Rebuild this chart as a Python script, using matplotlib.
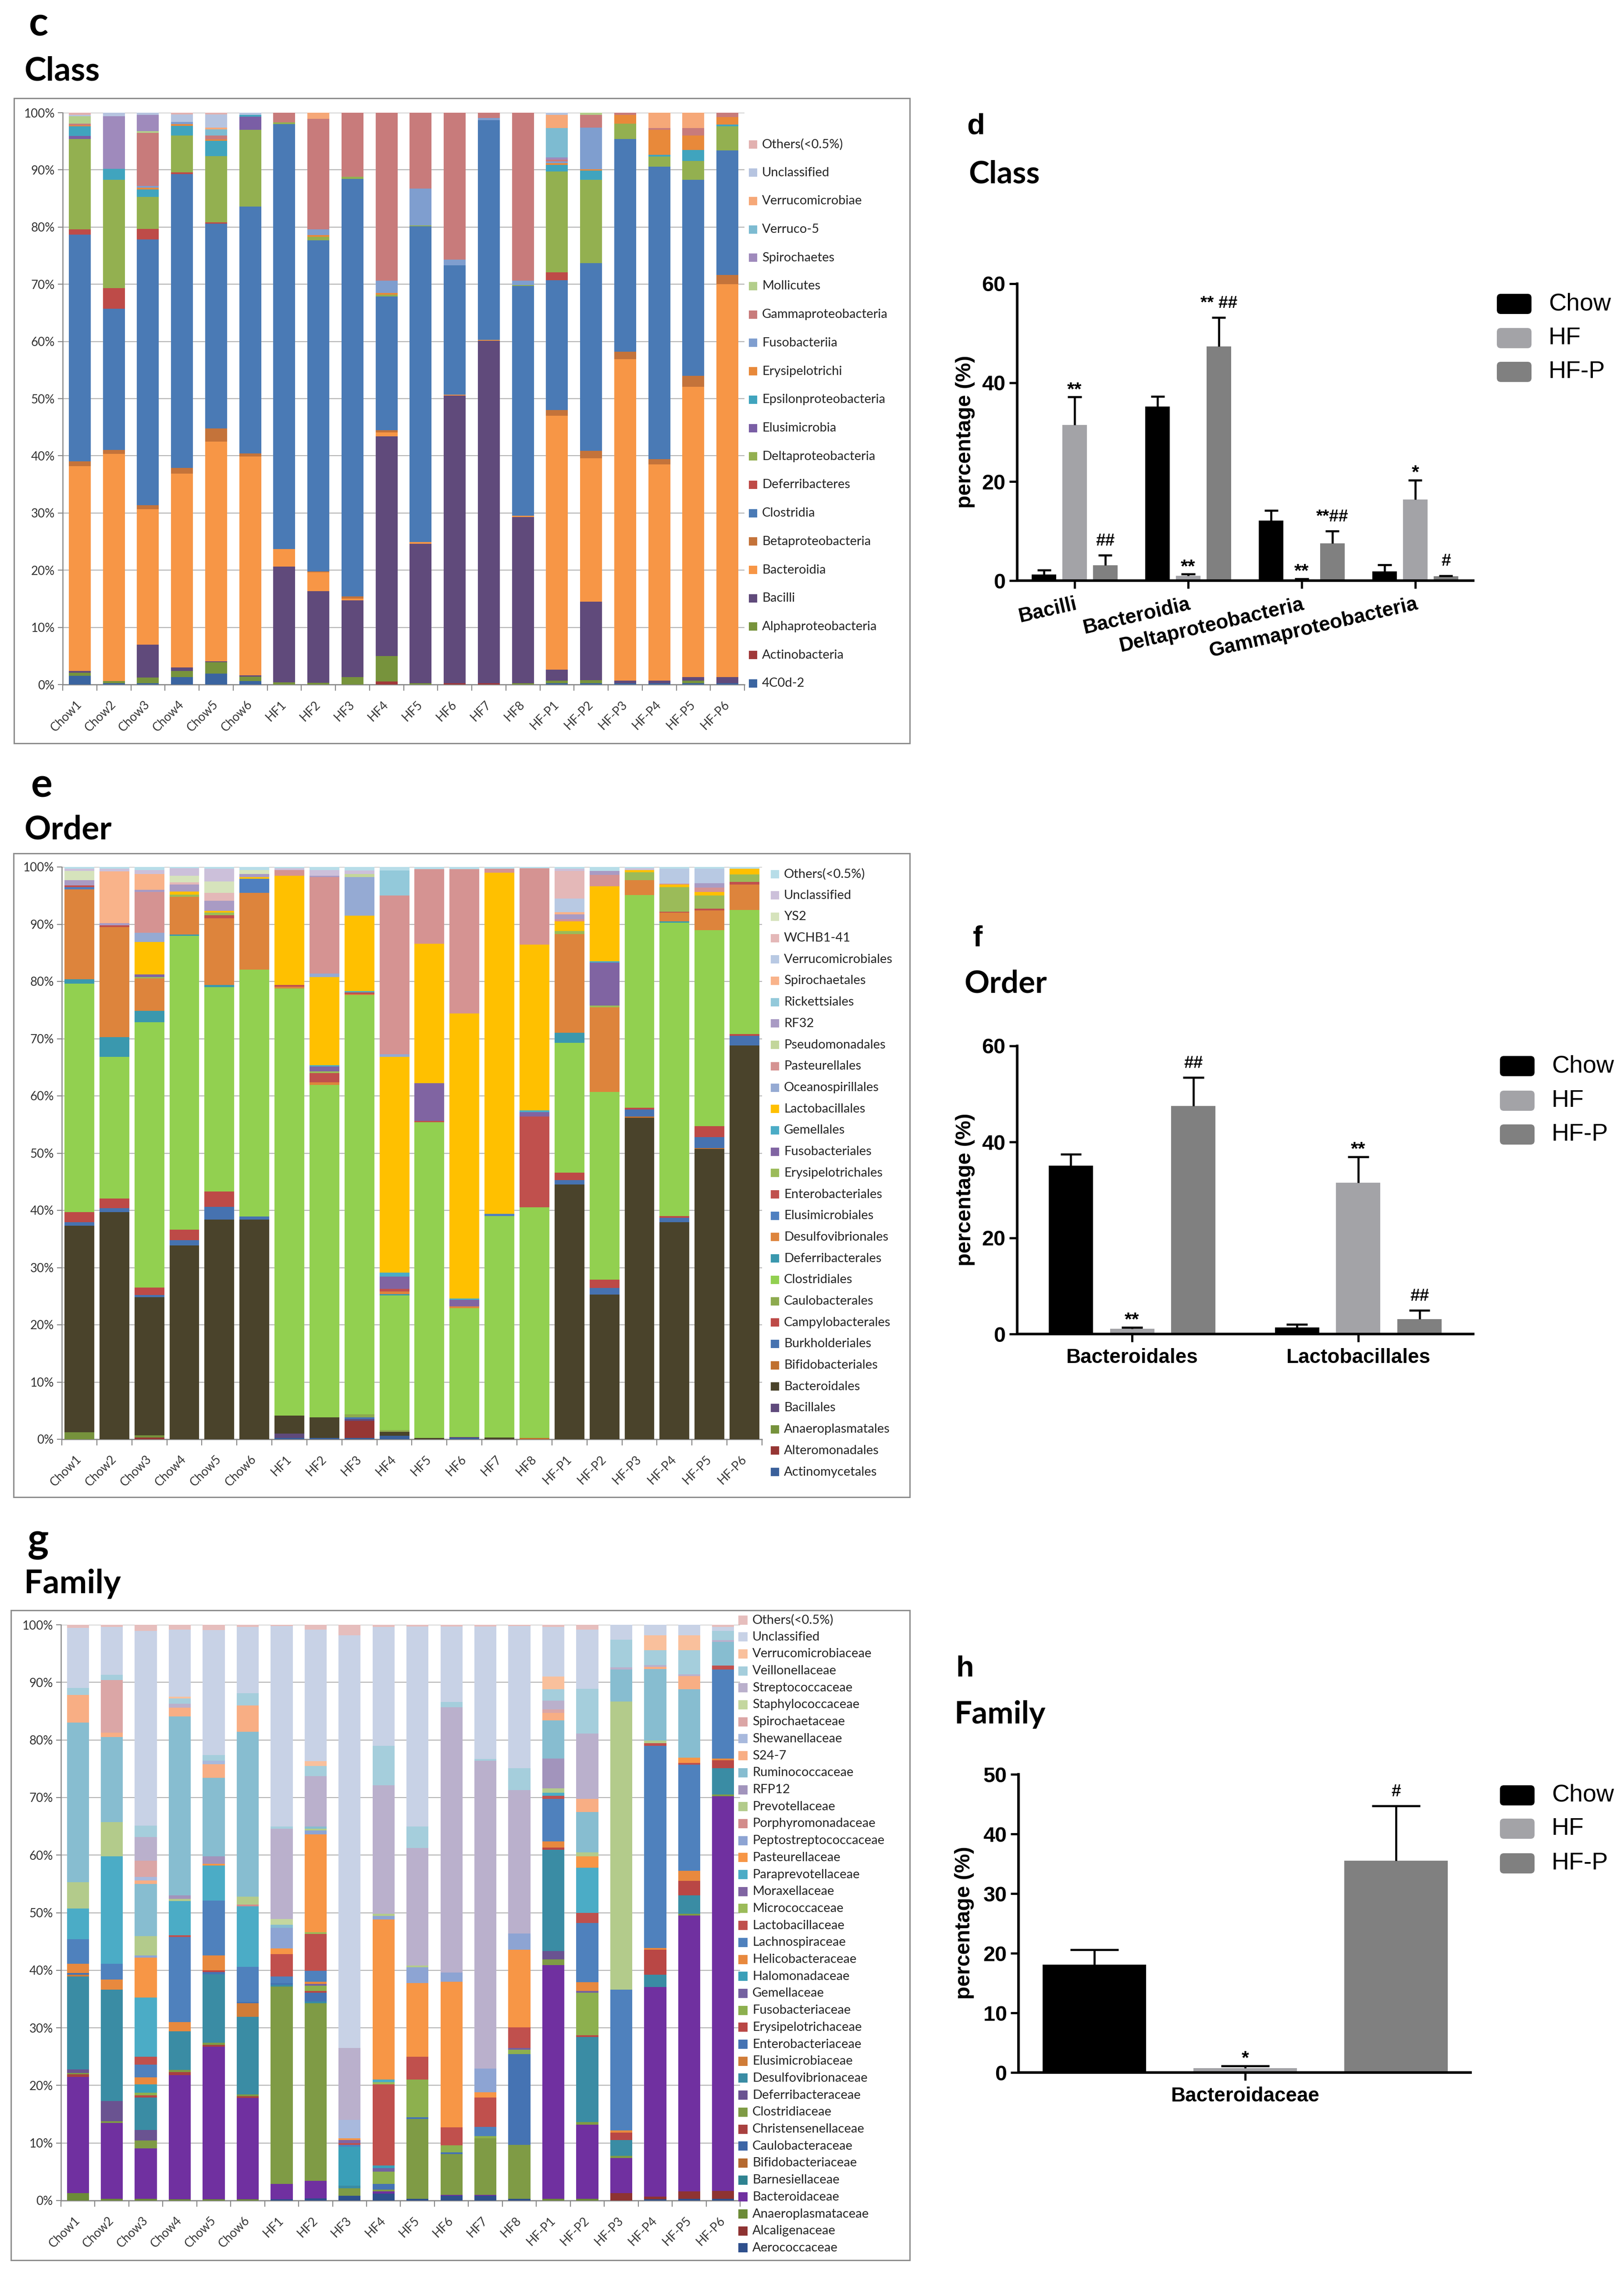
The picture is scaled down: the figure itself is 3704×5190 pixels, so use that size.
import matplotlib
matplotlib.use('Agg')
import matplotlib.pyplot as plt
from matplotlib.patches import Rectangle, FancyBboxPatch
from matplotlib.transforms import IdentityTransform
import numpy as np

# ---------------------------------------------------------------- data
samples = ['Chow1', 'Chow2', 'Chow3', 'Chow4', 'Chow5', 'Chow6',
           'HF1', 'HF2', 'HF3', 'HF4', 'HF5', 'HF6', 'HF7', 'HF8',
           'HF-P1', 'HF-P2', 'HF-P3', 'HF-P4', 'HF-P5', 'HF-P6']

# ---- Class (stack order bottom -> top)
class_cats = ['4C0d-2', 'Actinobacteria', 'Alphaproteobacteria', 'Bacilli', 'Bacteroidia',
              'Betaproteobacteria', 'Clostridia', 'Deferribacteres', 'Deltaproteobacteria',
              'Elusimicrobia', 'Epsilonproteobacteria', 'Erysipelotrichi', 'Fusobacteriia',
              'Gammaproteobacteria', 'Mollicutes', 'Spirochaetes', 'Verruco-5',
              'Verrucomicrobiae', 'Unclassified', 'Others(<0.5%)']
class_colors = ['#3A64A0', '#A0393A', '#77933C', '#604A7B', '#F79646',
                '#C4733A', '#4A7AB5', '#BE4B48', '#93B050',
                '#7A5EA5', '#40A4BE', '#E8893A', '#7F9ECF',
                '#C87B7B', '#B3CE8B', '#9F8ABC', '#7DBBD1',
                '#F6A878', '#B6C4E0', '#E2B1B0']
class_data = {
    'Chow1': {'4C0d-2': 1.5, 'Alphaproteobacteria': 0.6, 'Bacilli': 0.3, 'Bacteroidia': 35.8, 'Betaproteobacteria': 0.8, 'Clostridia': 39.7, 'Deferribacteres': 0.9, 'Deltaproteobacteria': 15.8, 'Elusimicrobia': 0.5, 'Epsilonproteobacteria': 1.7, 'Erysipelotrichi': 0.2, 'Gammaproteobacteria': 0.3, 'Mollicutes': 1.3, 'Unclassified': 0.2, 'Others(<0.5%)': 0.4},
    'Chow2': {'4C0d-2': 0.2, 'Alphaproteobacteria': 0.4, 'Bacteroidia': 39.7, 'Betaproteobacteria': 0.7, 'Clostridia': 24.7, 'Deferribacteres': 3.6, 'Deltaproteobacteria': 19.0, 'Epsilonproteobacteria': 1.9, 'Spirochaetes': 9.2, 'Unclassified': 0.6},
    'Chow3': {'4C0d-2': 0.2, 'Alphaproteobacteria': 1.0, 'Bacilli': 5.8, 'Bacteroidia': 23.7, 'Betaproteobacteria': 0.7, 'Clostridia': 46.4, 'Deferribacteres': 1.9, 'Deltaproteobacteria': 5.6, 'Epsilonproteobacteria': 1.3, 'Erysipelotrichi': 0.3, 'Fusobacteriia': 0.3, 'Gammaproteobacteria': 9.3, 'Mollicutes': 0.3, 'Spirochaetes': 2.8, 'Unclassified': 0.4},
    'Chow4': {'4C0d-2': 1.3, 'Alphaproteobacteria': 1.1, 'Bacilli': 0.6, 'Bacteroidia': 33.9, 'Betaproteobacteria': 1.0, 'Clostridia': 51.4, 'Deferribacteres': 0.3, 'Deltaproteobacteria': 6.4, 'Epsilonproteobacteria': 1.7, 'Erysipelotrichi': 0.3, 'Fusobacteriia': 0.4, 'Unclassified': 1.3, 'Others(<0.5%)': 0.3},
    'Chow5': {'4C0d-2': 1.9, 'Alphaproteobacteria': 2.0, 'Bacilli': 0.2, 'Bacteroidia': 38.4, 'Betaproteobacteria': 2.3, 'Clostridia': 35.8, 'Deferribacteres': 0.2, 'Deltaproteobacteria': 11.6, 'Epsilonproteobacteria': 2.7, 'Erysipelotrichi': 0.2, 'Gammaproteobacteria': 0.7, 'Verruco-5': 1.1, 'Verrucomicrobiae': 0.3, 'Unclassified': 2.3, 'Others(<0.5%)': 0.3},
    'Chow6': {'4C0d-2': 0.6, 'Alphaproteobacteria': 0.8, 'Bacilli': 0.2, 'Bacteroidia': 38.3, 'Betaproteobacteria': 0.5, 'Clostridia': 43.2, 'Deltaproteobacteria': 13.4, 'Elusimicrobia': 2.3, 'Epsilonproteobacteria': 0.3, 'Unclassified': 0.4},
    'HF1': {'Alphaproteobacteria': 0.4, 'Bacilli': 20.2, 'Bacteroidia': 3.1, 'Clostridia': 74.3, 'Deltaproteobacteria': 0.3, 'Gammaproteobacteria': 1.7},
    'HF2': {'Alphaproteobacteria': 0.3, 'Bacilli': 16.0, 'Bacteroidia': 3.3, 'Betaproteobacteria': 0.2, 'Clostridia': 57.9, 'Deltaproteobacteria': 0.6, 'Erysipelotrichi': 0.3, 'Fusobacteriia': 1.0, 'Gammaproteobacteria': 19.3, 'Verrucomicrobiae': 1.1},
    'HF3': {'Alphaproteobacteria': 1.3, 'Bacilli': 13.4, 'Bacteroidia': 0.3, 'Betaproteobacteria': 0.4, 'Clostridia': 73.0, 'Deltaproteobacteria': 0.4, 'Gammaproteobacteria': 11.2},
    'HF4': {'Actinobacteria': 0.5, 'Alphaproteobacteria': 4.5, 'Bacilli': 38.4, 'Bacteroidia': 0.7, 'Betaproteobacteria': 0.4, 'Clostridia': 23.4, 'Deltaproteobacteria': 0.3, 'Erysipelotrichi': 0.3, 'Fusobacteriia': 2.1, 'Gammaproteobacteria': 29.4},
    'HF5': {'Alphaproteobacteria': 0.2, 'Bacilli': 24.4, 'Bacteroidia': 0.3, 'Clostridia': 55.2, 'Deltaproteobacteria': 0.2, 'Fusobacteriia': 6.4, 'Gammaproteobacteria': 13.3},
    'HF6': {'Actinobacteria': 0.2, 'Bacilli': 50.3, 'Bacteroidia': 0.2, 'Clostridia': 22.6, 'Fusobacteriia': 1.0, 'Gammaproteobacteria': 25.7},
    'HF7': {'Actinobacteria': 0.2, 'Bacilli': 59.9, 'Bacteroidia': 0.2, 'Clostridia': 38.4, 'Fusobacteriia': 0.4, 'Gammaproteobacteria': 0.9},
    'HF8': {'Alphaproteobacteria': 0.2, 'Bacilli': 29.1, 'Bacteroidia': 0.2, 'Clostridia': 40.2, 'Deltaproteobacteria': 0.2, 'Fusobacteriia': 0.7, 'Gammaproteobacteria': 29.4},
    'HF-P1': {'4C0d-2': 0.2, 'Alphaproteobacteria': 0.5, 'Bacilli': 1.9, 'Bacteroidia': 44.4, 'Betaproteobacteria': 1.0, 'Clostridia': 22.7, 'Deferribacteres': 1.4, 'Deltaproteobacteria': 17.6, 'Epsilonproteobacteria': 1.2, 'Erysipelotrichi': 0.3, 'Fusobacteriia': 0.3, 'Gammaproteobacteria': 0.3, 'Spirochaetes': 0.4, 'Verruco-5': 5.1, 'Verrucomicrobiae': 2.3, 'Unclassified': 0.4},
    'HF-P2': {'4C0d-2': 0.2, 'Alphaproteobacteria': 0.6, 'Bacilli': 13.7, 'Bacteroidia': 25.1, 'Betaproteobacteria': 1.3, 'Clostridia': 32.8, 'Deltaproteobacteria': 14.6, 'Epsilonproteobacteria': 1.6, 'Erysipelotrichi': 0.2, 'Fusobacteriia': 7.3, 'Gammaproteobacteria': 2.2, 'Mollicutes': 0.4},
    'HF-P3': {'4C0d-2': 0.2, 'Bacilli': 0.5, 'Bacteroidia': 56.2, 'Betaproteobacteria': 1.3, 'Clostridia': 37.2, 'Deltaproteobacteria': 2.7, 'Erysipelotrichi': 1.5, 'Gammaproteobacteria': 0.4},
    'HF-P4': {'4C0d-2': 0.2, 'Bacilli': 0.5, 'Bacteroidia': 37.8, 'Betaproteobacteria': 0.9, 'Clostridia': 51.2, 'Deltaproteobacteria': 1.7, 'Epsilonproteobacteria': 0.3, 'Erysipelotrichi': 4.4, 'Gammaproteobacteria': 0.3, 'Verrucomicrobiae': 2.7},
    'HF-P5': {'4C0d-2': 0.2, 'Alphaproteobacteria': 0.5, 'Bacilli': 0.6, 'Bacteroidia': 50.8, 'Betaproteobacteria': 1.9, 'Clostridia': 34.3, 'Deltaproteobacteria': 3.3, 'Epsilonproteobacteria': 1.9, 'Erysipelotrichi': 2.5, 'Gammaproteobacteria': 1.3, 'Verrucomicrobiae': 2.7},
    'HF-P6': {'4C0d-2': 0.2, 'Bacilli': 1.1, 'Bacteroidia': 68.7, 'Betaproteobacteria': 1.6, 'Clostridia': 21.8, 'Deltaproteobacteria': 4.2, 'Epsilonproteobacteria': 0.3, 'Erysipelotrichi': 1.3, 'Gammaproteobacteria': 0.8},
}

# ---- Order
order_cats = ['Actinomycetales', 'Alteromonadales', 'Anaeroplasmatales', 'Bacillales', 'Bacteroidales',
              'Bifidobacteriales', 'Burkholderiales', 'Campylobacterales', 'Caulobacterales',
              'Clostridiales', 'Deferribacterales', 'Desulfovibrionales', 'Elusimicrobiales',
              'Enterobacteriales', 'Erysipelotrichales', 'Fusobacteriales', 'Gemellales',
              'Lactobacillales', 'Oceanospirillales', 'Pasteurellales', 'Pseudomonadales', 'RF32',
              'Rickettsiales', 'Spirochaetales', 'Verrucomicrobiales', 'WCHB1-41', 'YS2',
              'Unclassified', 'Others(<0.5%)']
order_colors = ['#3A5F9A', '#963634', '#76923C', '#5F4A7C', '#4A432B',
                '#C0702E', '#4672B0', '#BD4A47', '#8DAA4E',
                '#92D050', '#3A98AE', '#DD843C', '#4E7FC0',
                '#C0504D', '#9BBB59', '#8064A2', '#4BACC6',
                '#FFC000', '#95AAD3', '#D59392', '#C3D69B', '#A99BC4',
                '#93C9DA', '#F9B38A', '#B8C9E3', '#E4B8B8', '#D6E3BC',
                '#CCC0DA', '#B7DDE8']
order_data = {
    'Chow1': {'Anaeroplasmatales': 1.2, 'Bacteroidales': 36.1, 'Burkholderiales': 0.6, 'Campylobacterales': 1.8, 'Clostridiales': 39.9, 'Deferribacterales': 0.8, 'Desulfovibrionales': 15.7, 'Elusimicrobiales': 0.4, 'Enterobacteriales': 0.3, 'RF32': 0.9, 'YS2': 1.6, 'Unclassified': 0.4, 'Others(<0.5%)': 0.3},
    'Chow2': {'Bacteroidales': 39.7, 'Burkholderiales': 0.7, 'Campylobacterales': 1.7, 'Clostridiales': 24.7, 'Deferribacterales': 3.5, 'Desulfovibrionales': 19.2, 'Enterobacteriales': 0.3, 'RF32': 0.4, 'Spirochaetales': 9.0, 'Unclassified': 0.5, 'Others(<0.5%)': 0.3},
    'Chow3': {'Alteromonadales': 0.3, 'Anaeroplasmatales': 0.4, 'Bacteroidales': 24.1, 'Burkholderiales': 0.4, 'Campylobacterales': 1.3, 'Clostridiales': 46.4, 'Deferribacterales': 2.0, 'Desulfovibrionales': 5.6, 'Erysipelotrichales': 0.3, 'Fusobacteriales': 0.4, 'Lactobacillales': 5.7, 'Oceanospirillales': 1.6, 'Pasteurellales': 7.1, 'RF32': 0.4, 'Spirochaetales': 2.8, 'Unclassified': 0.7, 'Others(<0.5%)': 0.5},
    'Chow4': {'Bacteroidales': 33.9, 'Burkholderiales': 0.9, 'Campylobacterales': 1.8, 'Clostridiales': 51.4, 'Deferribacterales': 0.2, 'Desulfovibrionales': 6.6, 'Erysipelotrichales': 0.4, 'Lactobacillales': 0.5, 'RF32': 1.2, 'WCHB1-41': 0.4, 'YS2': 1.2, 'Unclassified': 1.3, 'Others(<0.5%)': 0.2},
    'Chow5': {'Bacteroidales': 38.4, 'Burkholderiales': 2.2, 'Campylobacterales': 2.7, 'Clostridiales': 35.7, 'Deferribacterales': 0.4, 'Desulfovibrionales': 11.6, 'Enterobacteriales': 0.6, 'Erysipelotrichales': 0.4, 'Lactobacillales': 0.3, 'RF32': 1.8, 'WCHB1-41': 1.4, 'YS2': 2.0, 'Unclassified': 2.2, 'Others(<0.5%)': 0.3},
    'Chow6': {'Bacteroidales': 38.4, 'Burkholderiales': 0.5, 'Clostridiales': 43.2, 'Desulfovibrionales': 13.4, 'Elusimicrobiales': 2.4, 'Lactobacillales': 0.3, 'RF32': 0.6, 'YS2': 0.7, 'Others(<0.5%)': 0.5},
    'HF1': {'Actinomycetales': 0.2, 'Bacillales': 0.8, 'Bacteroidales': 3.1, 'Clostridiales': 74.7, 'Desulfovibrionales': 0.3, 'Enterobacteriales': 0.3, 'Lactobacillales': 19.1, 'Pasteurellales': 1.0, 'Unclassified': 0.3, 'Others(<0.5%)': 0.2},
    'HF2': {'Actinomycetales': 0.2, 'Bacteroidales': 3.6, 'Clostridiales': 58.1, 'Desulfovibrionales': 0.5, 'Enterobacteriales': 1.6, 'Erysipelotrichales': 0.3, 'Fusobacteriales': 0.8, 'Gemellales': 0.3, 'Lactobacillales': 15.4, 'Oceanospirillales': 0.6, 'Pasteurellales': 16.8, 'RF32': 0.3, 'Unclassified': 1.0, 'Others(<0.5%)': 0.5},
    'HF3': {'Actinomycetales': 0.2, 'Alteromonadales': 3.0, 'Bacillales': 0.3, 'Burkholderiales': 0.3, 'Caulobacterales': 0.6, 'Clostridiales': 73.2, 'Desulfovibrionales': 0.2, 'Enterobacteriales': 0.3, 'Gemellales': 0.2, 'Lactobacillales': 13.2, 'Oceanospirillales': 6.7, 'Pseudomonadales': 0.6, 'Unclassified': 0.6, 'Others(<0.5%)': 0.6},
    'HF4': {'Actinomycetales': 0.6, 'Bacteroidales': 0.7, 'Caulobacterales': 0.3, 'Clostridiales': 23.5, 'Deferribacterales': 0.3, 'Desulfovibrionales': 0.4, 'Enterobacteriales': 0.5, 'Fusobacteriales': 2.1, 'Gemellales': 0.7, 'Lactobacillales': 37.7, 'Oceanospirillales': 0.5, 'Pasteurellales': 27.7, 'Rickettsiales': 4.4, 'Others(<0.5%)': 0.6},
    'HF5': {'Bacteroidales': 0.2, 'Clostridiales': 55.2, 'Enterobacteriales': 0.2, 'Fusobacteriales': 6.6, 'Lactobacillales': 24.4, 'Pasteurellales': 13.0, 'Others(<0.5%)': 0.4},
    'HF6': {'Actinomycetales': 0.2, 'Bacillales': 0.2, 'Clostridiales': 22.5, 'Desulfovibrionales': 0.3, 'Fusobacteriales': 1.2, 'Gemellales': 0.2, 'Lactobacillales': 49.8, 'Pasteurellales': 25.2, 'Others(<0.5%)': 0.4},
    'HF7': {'Bacteroidales': 0.3, 'Clostridiales': 38.7, 'Elusimicrobiales': 0.4, 'Lactobacillales': 59.6, 'Pasteurellales': 0.7, 'Others(<0.5%)': 0.3},
    'HF8': {'Bifidobacteriales': 0.2, 'Clostridiales': 40.3, 'Enterobacteriales': 15.9, 'Fusobacteriales': 0.8, 'Gemellales': 0.3, 'Lactobacillales': 28.9, 'Pasteurellales': 13.4, 'Others(<0.5%)': 0.2},
    'HF-P1': {'Bacteroidales': 44.5, 'Burkholderiales': 0.8, 'Campylobacterales': 1.3, 'Clostridiales': 22.7, 'Deferribacterales': 1.7, 'Desulfovibrionales': 17.3, 'Erysipelotrichales': 0.5, 'Lactobacillales': 1.7, 'Pasteurellales': 0.4, 'RF32': 0.8, 'Spirochaetales': 0.4, 'Verrucomicrobiales': 2.4, 'WCHB1-41': 4.8, 'Unclassified': 0.4, 'Others(<0.5%)': 0.3},
    'HF-P2': {'Bacteroidales': 25.3, 'Burkholderiales': 1.1, 'Campylobacterales': 1.5, 'Clostridiales': 32.8, 'Desulfovibrionales': 14.8, 'Erysipelotrichales': 0.3, 'Fusobacteriales': 7.5, 'Gemellales': 0.2, 'Lactobacillales': 13.1, 'Pasteurellales': 2.0, 'RF32': 0.7, 'Others(<0.5%)': 0.7},
    'HF-P3': {'Bacteroidales': 56.2, 'Bifidobacteriales': 0.2, 'Burkholderiales': 1.2, 'Campylobacterales': 0.3, 'Clostridiales': 37.2, 'Desulfovibrionales': 2.6, 'Erysipelotrichales': 1.4, 'Lactobacillales': 0.4, 'Unclassified': 0.3, 'Others(<0.5%)': 0.2},
    'HF-P4': {'Bacteroidales': 37.9, 'Burkholderiales': 0.8, 'Campylobacterales': 0.3, 'Clostridiales': 51.3, 'Deferribacterales': 0.2, 'Desulfovibrionales': 1.5, 'Enterobacteriales': 0.2, 'Erysipelotrichales': 4.3, 'Lactobacillales': 0.4, 'Pasteurellales': 0.2, 'Verrucomicrobiales': 2.6, 'Others(<0.5%)': 0.3},
    'HF-P5': {'Bacteroidales': 50.7, 'Bifidobacteriales': 0.2, 'Burkholderiales': 1.9, 'Campylobacterales': 1.9, 'Clostridiales': 34.3, 'Desulfovibrionales': 3.4, 'Enterobacteriales': 0.3, 'Erysipelotrichales': 2.3, 'Lactobacillales': 0.6, 'Pasteurellales': 0.8, 'RF32': 0.8, 'Verrucomicrobiales': 2.5, 'Others(<0.5%)': 0.3},
    'HF-P6': {'Bacteroidales': 68.8, 'Burkholderiales': 1.7, 'Campylobacterales': 0.3, 'Clostridiales': 21.7, 'Desulfovibrionales': 4.4, 'Enterobacteriales': 0.5, 'Erysipelotrichales': 1.3, 'Lactobacillales': 1.0, 'Others(<0.5%)': 0.3},
}

# ---- Family
family_cats = ['Aerococcaceae', 'Alcaligenaceae', 'Anaeroplasmataceae', 'Bacteroidaceae',
               'Barnesiellaceae', 'Bifidobacteriaceae', 'Caulobacteraceae', 'Christensenellaceae',
               'Clostridiaceae', 'Deferribacteraceae', 'Desulfovibrionaceae', 'Elusimicrobiaceae',
               'Enterobacteriaceae', 'Erysipelotrichaceae', 'Fusobacteriaceae', 'Gemellaceae',
               'Halomonadaceae', 'Helicobacteraceae', 'Lachnospiraceae', 'Lactobacillaceae',
               'Micrococcaceae', 'Moraxellaceae', 'Paraprevotellaceae', 'Pasteurellaceae',
               'Peptostreptococcaceae', 'Porphyromonadaceae', 'Prevotellaceae', 'RFP12',
               'Ruminococcaceae', 'S24-7', 'Shewanellaceae', 'Spirochaetaceae',
               'Staphylococcaceae', 'Streptococcaceae', 'Veillonellaceae', 'Verrucomicrobiaceae',
               'Unclassified', 'Others(<0.5%)']
family_colors = ['#2E4F8C', '#8E3332', '#6C8B37', '#7030A0',
                 '#2F8391', '#B5692F', '#3D65A6', '#A8403F',
                 '#7F9B45', '#6A5391', '#3A8CA4', '#D07C37',
                 '#4573B3', '#B94745', '#8DB04E', '#7461A0',
                 '#3A9FB8', '#E8893E', '#4F81BD', '#C0504D',
                 '#9BBB59', '#8064A2', '#4BACC6', '#F79646',
                 '#8DA4D3', '#D38C8B', '#B3CB8B', '#A294BC',
                 '#87BDD0', '#F8AE84', '#A8B9DD', '#DBA6A6',
                 '#C4D79F', '#BAB0CC', '#A5CEDC', '#F9C09C',
                 '#C8D2E6', '#E6BEBD']
family_data = {
    'Chow1': {'Anaeroplasmataceae': 1.3, 'Bacteroidaceae': 20.2, 'Christensenellaceae': 0.4, 'Clostridiaceae': 0.3, 'Deferribacteraceae': 0.6, 'Desulfovibrionaceae': 16.1, 'Elusimicrobiaceae': 0.3, 'Enterobacteriaceae': 0.3, 'Helicobacteraceae': 1.6, 'Lachnospiraceae': 4.3, 'Paraprevotellaceae': 5.3, 'Prevotellaceae': 4.6, 'Ruminococcaceae': 27.7, 'S24-7': 4.8, 'Veillonellaceae': 1.2, 'Unclassified': 10.5, 'Others(<0.5%)': 0.5},
    'Chow2': {'Anaeroplasmataceae': 0.3, 'Bacteroidaceae': 13.2, 'Clostridiaceae': 0.3, 'Deferribacteraceae': 3.5, 'Desulfovibrionaceae': 19.3, 'Helicobacteraceae': 1.8, 'Lachnospiraceae': 2.7, 'Paraprevotellaceae': 18.7, 'Prevotellaceae': 5.9, 'Ruminococcaceae': 14.8, 'S24-7': 0.8, 'Spirochaetaceae': 9.1, 'Veillonellaceae': 0.9, 'Unclassified': 8.3, 'Others(<0.5%)': 0.4},
    'Chow3': {'Anaeroplasmataceae': 0.3, 'Bacteroidaceae': 8.8, 'Clostridiaceae': 1.3, 'Deferribacteraceae': 1.9, 'Desulfovibrionaceae': 5.6, 'Erysipelotrichaceae': 0.4, 'Fusobacteriaceae': 0.4, 'Halomonadaceae': 1.5, 'Helicobacteraceae': 1.2, 'Lachnospiraceae': 2.2, 'Lactobacillaceae': 1.4, 'Paraprevotellaceae': 10.3, 'Pasteurellaceae': 6.9, 'Peptostreptococcaceae': 0.4, 'Prevotellaceae': 3.3, 'Ruminococcaceae': 9.1, 'S24-7': 0.6, 'Shewanellaceae': 0.6, 'Spirochaetaceae': 2.8, 'Streptococcaceae': 4.1, 'Veillonellaceae': 2.0, 'Unclassified': 33.8, 'Others(<0.5%)': 1.1},
    'Chow4': {'Anaeroplasmataceae': 0.2, 'Bacteroidaceae': 21.6, 'Christensenellaceae': 0.5, 'Clostridiaceae': 0.4, 'Desulfovibrionaceae': 6.7, 'Helicobacteraceae': 1.6, 'Lachnospiraceae': 14.8, 'Lactobacillaceae': 0.3, 'Paraprevotellaceae': 5.9, 'Prevotellaceae': 0.4, 'RFP12': 0.6, 'Ruminococcaceae': 31.1, 'S24-7': 1.5, 'Streptococcaceae': 0.7, 'Veillonellaceae': 0.9, 'Verrucomicrobiaceae': 0.3, 'Unclassified': 11.7, 'Others(<0.5%)': 0.8},
    'Chow5': {'Anaeroplasmataceae': 0.2, 'Bacteroidaceae': 26.5, 'Christensenellaceae': 0.3, 'Clostridiaceae': 0.4, 'Desulfovibrionaceae': 11.9, 'Enterobacteriaceae': 0.4, 'Erysipelotrichaceae': 0.3, 'Helicobacteraceae': 2.6, 'Lachnospiraceae': 9.5, 'Paraprevotellaceae': 6.1, 'Pasteurellaceae': 0.3, 'RFP12': 1.3, 'Ruminococcaceae': 13.6, 'S24-7': 2.4, 'Shewanellaceae': 0.6, 'Veillonellaceae': 1.0, 'Unclassified': 21.7, 'Others(<0.5%)': 0.9},
    'Chow6': {'Anaeroplasmataceae': 0.2, 'Bacteroidaceae': 17.6, 'Christensenellaceae': 0.3, 'Clostridiaceae': 0.3, 'Desulfovibrionaceae': 13.5, 'Elusimicrobiaceae': 2.4, 'Enterobacteriaceae': 0.2, 'Lachnospiraceae': 6.1, 'Paraprevotellaceae': 10.5, 'Porphyromonadaceae': 0.3, 'Prevotellaceae': 1.4, 'Ruminococcaceae': 28.6, 'S24-7': 4.6, 'Veillonellaceae': 2.1, 'Unclassified': 11.5, 'Others(<0.5%)': 0.4},
    'HF1': {'Aerococcaceae': 0.2, 'Bacteroidaceae': 2.7, 'Clostridiaceae': 34.3, 'Desulfovibrionaceae': 0.3, 'Enterobacteriaceae': 0.3, 'Lachnospiraceae': 1.1, 'Lactobacillaceae': 3.9, 'Pasteurellaceae': 1.0, 'Peptostreptococcaceae': 3.6, 'Ruminococcaceae': 0.5, 'Staphylococcaceae': 1.0, 'Streptococcaceae': 15.7, 'Veillonellaceae': 0.4, 'Unclassified': 34.8, 'Others(<0.5%)': 0.2},
    'HF2': {'Aerococcaceae': 0.4, 'Bacteroidaceae': 3.0, 'Clostridiaceae': 30.9, 'Desulfovibrionaceae': 0.3, 'Enterobacteriaceae': 1.5, 'Erysipelotrichaceae': 0.3, 'Fusobacteriaceae': 0.9, 'Gemellaceae': 0.3, 'Helicobacteraceae': 0.4, 'Lachnospiraceae': 1.9, 'Lactobacillaceae': 6.4, 'Micrococcaceae': 0.3, 'Pasteurellaceae': 17.0, 'Peptostreptococcaceae': 0.7, 'Prevotellaceae': 0.3, 'Ruminococcaceae': 0.4, 'Streptococcaceae': 8.7, 'Veillonellaceae': 1.8, 'Verrucomicrobiaceae': 0.8, 'Unclassified': 22.9, 'Others(<0.5%)': 0.8},
    'HF3': {'Aerococcaceae': 0.8, 'Clostridiaceae': 1.3, 'Desulfovibrionaceae': 0.5, 'Halomonadaceae': 6.8, 'Lachnospiraceae': 0.3, 'Lactobacillaceae': 0.3, 'Moraxellaceae': 0.5, 'Pasteurellaceae': 0.3, 'Shewanellaceae': 3.2, 'Streptococcaceae': 12.5, 'Unclassified': 71.7, 'Others(<0.5%)': 1.8},
    'HF4': {'Aerococcaceae': 1.2, 'Bacteroidaceae': 0.4, 'Clostridiaceae': 0.3, 'Enterobacteriaceae': 1.0, 'Fusobacteriaceae': 2.1, 'Gemellaceae': 0.6, 'Halomonadaceae': 0.5, 'Lactobacillaceae': 14.1, 'Micrococcaceae': 0.4, 'Paraprevotellaceae': 0.4, 'Pasteurellaceae': 27.8, 'Peptostreptococcaceae': 0.6, 'Prevotellaceae': 0.4, 'Streptococcaceae': 22.3, 'Veillonellaceae': 6.9, 'Unclassified': 20.6, 'Others(<0.5%)': 0.4},
    'HF5': {'Aerococcaceae': 0.3, 'Clostridiaceae': 13.9, 'Enterobacteriaceae': 0.3, 'Fusobacteriaceae': 6.5, 'Lactobacillaceae': 4.0, 'Pasteurellaceae': 12.8, 'Peptostreptococcaceae': 2.7, 'Prevotellaceae': 0.3, 'Streptococcaceae': 20.4, 'Veillonellaceae': 3.8, 'Unclassified': 34.7, 'Others(<0.5%)': 0.3},
    'HF6': {'Aerococcaceae': 0.8, 'Bacteroidaceae': 0.2, 'Clostridiaceae': 7.1, 'Enterobacteriaceae': 0.3, 'Fusobacteriaceae': 1.2, 'Lactobacillaceae': 3.1, 'Pasteurellaceae': 25.3, 'Peptostreptococcaceae': 1.6, 'Streptococcaceae': 46.1, 'Veillonellaceae': 0.9, 'Unclassified': 13.1, 'Others(<0.5%)': 0.3},
    'HF7': {'Aerococcaceae': 0.8, 'Bacteroidaceae': 0.2, 'Clostridiaceae': 9.8, 'Fusobacteriaceae': 0.4, 'Lachnospiraceae': 1.6, 'Lactobacillaceae': 5.1, 'Pasteurellaceae': 0.9, 'Peptostreptococcaceae': 4.1, 'Streptococcaceae': 53.5, 'Veillonellaceae': 0.3, 'Unclassified': 23.0, 'Others(<0.5%)': 0.3},
    'HF8': {'Aerococcaceae': 0.3, 'Clostridiaceae': 9.4, 'Enterobacteriaceae': 15.7, 'Fusobacteriaceae': 0.8, 'Gemellaceae': 0.3, 'Lactobacillaceae': 3.6, 'Pasteurellaceae': 13.5, 'Peptostreptococcaceae': 2.8, 'Streptococcaceae': 24.9, 'Veillonellaceae': 3.8, 'Unclassified': 24.7, 'Others(<0.5%)': 0.2},
    'HF-P1': {'Anaeroplasmataceae': 0.3, 'Bacteroidaceae': 40.6, 'Clostridiaceae': 1.0, 'Deferribacteraceae': 1.4, 'Desulfovibrionaceae': 17.6, 'Erysipelotrichaceae': 0.4, 'Helicobacteraceae': 1.1, 'Lachnospiraceae': 7.4, 'Lactobacillaceae': 0.5, 'Paraprevotellaceae': 0.5, 'Prevotellaceae': 0.8, 'RFP12': 5.2, 'Ruminococcaceae': 6.6, 'S24-7': 1.3, 'Spirochaetaceae': 0.6, 'Streptococcaceae': 1.5, 'Veillonellaceae': 2.0, 'Verrucomicrobiaceae': 2.2, 'Unclassified': 8.6, 'Others(<0.5%)': 0.4},
    'HF-P2': {'Anaeroplasmataceae': 0.3, 'Bacteroidaceae': 12.9, 'Clostridiaceae': 0.4, 'Desulfovibrionaceae': 14.8, 'Erysipelotrichaceae': 0.3, 'Fusobacteriaceae': 7.4, 'Gemellaceae': 0.3, 'Helicobacteraceae': 1.5, 'Lachnospiraceae': 10.3, 'Lactobacillaceae': 1.8, 'Paraprevotellaceae': 7.8, 'Pasteurellaceae': 2.0, 'Prevotellaceae': 0.7, 'Ruminococcaceae': 7.0, 'S24-7': 2.3, 'Streptococcaceae': 11.3, 'Veillonellaceae': 7.8, 'Unclassified': 10.3, 'Others(<0.5%)': 0.8},
    'HF-P3': {'Alcaligenaceae': 1.3, 'Bacteroidaceae': 6.1, 'Clostridiaceae': 0.4, 'Desulfovibrionaceae': 2.7, 'Erysipelotrichaceae': 1.3, 'Helicobacteraceae': 0.4, 'Lachnospiraceae': 24.4, 'Prevotellaceae': 50.1, 'Ruminococcaceae': 5.5, 'Streptococcaceae': 0.4, 'Veillonellaceae': 4.8, 'Unclassified': 2.6},
    'HF-P4': {'Aerococcaceae': 0.2, 'Alcaligenaceae': 0.5, 'Bacteroidaceae': 36.4, 'Desulfovibrionaceae': 2.1, 'Erysipelotrichaceae': 4.4, 'Helicobacteraceae': 0.3, 'Lachnospiraceae': 35.1, 'Lactobacillaceae': 0.4, 'Prevotellaceae': 0.5, 'Ruminococcaceae': 12.4, 'S24-7': 0.4, 'Streptococcaceae': 0.3, 'Veillonellaceae': 2.6, 'Verrucomicrobiaceae': 2.6, 'Unclassified': 1.8},
    'HF-P5': {'Aerococcaceae': 0.3, 'Alcaligenaceae': 1.3, 'Bacteroidaceae': 47.9, 'Clostridiaceae': 0.3, 'Desulfovibrionaceae': 3.2, 'Erysipelotrichaceae': 2.5, 'Helicobacteraceae': 1.8, 'Lachnospiraceae': 18.4, 'Lactobacillaceae': 0.3, 'Pasteurellaceae': 0.9, 'Ruminococcaceae': 11.9, 'S24-7': 2.3, 'Streptococcaceae': 0.3, 'Veillonellaceae': 4.2, 'Verrucomicrobiaceae': 2.6, 'Unclassified': 1.8},
    'HF-P6': {'Aerococcaceae': 0.3, 'Alcaligenaceae': 1.4, 'Bacteroidaceae': 68.5, 'Clostridiaceae': 0.3, 'Desulfovibrionaceae': 4.6, 'Erysipelotrichaceae': 1.4, 'Helicobacteraceae': 0.3, 'Lachnospiraceae': 15.4, 'Lactobacillaceae': 0.7, 'Ruminococcaceae': 4.1, 'Streptococcaceae': 0.3, 'Veillonellaceae': 1.6, 'Unclassified': 0.7, 'Others(<0.5%)': 0.4},
}

# ---- group means (%) and SEM
groups = ['Chow', 'HF', 'HF-P']
group_colors = ['#000000', '#A3A3A7', '#808080']

d_taxa = ['Bacilli', 'Bacteroidia', 'Deltaproteobacteria', 'Gammaproteobacteria']
d_mean = [[1.2, 35.2, 12.1, 1.9], [31.5, 1.0, 0.25, 16.4], [3.1, 47.3, 7.5, 0.9]]
d_err = [[0.9, 2.0, 2.1, 1.3], [5.6, 0.3, 0.1, 3.9], [2.0, 5.9, 2.5, 0.1]]
d_sig = [['', '', '', ''], ['**', '**', '**', '*'], ['##', '** ##', '**##', '#']]

f_taxa = ['Bacteroidales', 'Lactobacillales']
f_mean = [[35.1, 1.4], [1.1, 31.5], [47.5, 3.1]]
f_err = [[2.3, 0.6], [0.3, 5.4], [5.9, 1.8]]
f_sig = [['', ''], ['**', '**'], ['##', '##']]

h_taxa = ['Bacteroidaceae']
h_mean = [[18.1], [0.7], [35.5]]
h_err = [[2.5], [0.4], [9.2]]
h_sig = [[''], ['*'], ['#']]

# ---------------------------------------------------------------- figure
W, H = 3705, 5190
DPI = 100
fig = plt.figure(figsize=(W / DPI, H / DPI), dpi=DPI)
fig.patch.set_facecolor('white')


def fx(px):
    return px / W


def fy(py):
    return 1 - py / H


PF = ['Liberation Sans', 'DejaVu Sans']
EF = ['Lato', 'DejaVu Sans']
TXT = '#333333'


def check(data, cats):
    for s, d in data.items():
        for k in d:
            if k not in cats:
                raise KeyError(f'{s}: {k}')


def add_box(x0, y0, x1, y1):
    fig.patches.append(Rectangle((fx(x0), fy(y1)), (x1 - x0) / W, (y1 - y0) / H,
                                 transform=fig.transFigure, fill=False,
                                 edgecolor='#8C8C8C', lw=2.2))


def stacked(rect_px, cats, colors, data, bar_w):
    check(data, cats)
    l, r, t, b = rect_px
    ax = fig.add_axes([fx(l), fy(b), (r - l) / W, (b - t) / H])
    x = np.arange(len(samples))
    bottom = np.zeros(len(samples))
    for cat, col in zip(cats, colors):
        vals = np.array([data[s].get(cat, 0.0) for s in samples])
        ax.bar(x, vals, bar_w, bottom=bottom, color=col, linewidth=0, zorder=3)
        bottom += vals
    ax.set_xlim(-0.5, len(samples) - 0.5)
    ax.set_ylim(0, 100)
    yt = np.arange(0, 101, 10)
    ax.set_yticks(yt)
    ax.set_yticklabels([f'{v}%' for v in yt], fontsize=20, family=EF, color=TXT)
    ax.yaxis.grid(True, color='#B4B4B4', lw=1.6, zorder=0)
    ax.set_axisbelow(True)
    ax.set_xticks(x)
    ax.set_xticklabels(samples, rotation=45, ha='right', va='center',
                       rotation_mode='anchor', fontsize=20, family=EF, color=TXT)
    ax.set_xticks(np.arange(-0.5, len(samples), 1), minor=True)
    ax.tick_params(axis='x', which='major', length=0, pad=30)
    ax.tick_params(axis='x', which='minor', length=10, width=1.6, color='#868686')
    ax.tick_params(axis='y', length=8, width=1.6, color='#868686', pad=5)
    for sp in ['top', 'right']:
        ax.spines[sp].set_visible(False)
    for sp in ['left', 'bottom']:
        ax.spines[sp].set_color('#868686')
        ax.spines[sp].set_linewidth(1.8)
    return ax


def excel_legend(cats, colors, x_sq, y_first, spacing, size=19, fs=21):
    for i, (cat, col) in enumerate(zip(cats[::-1], colors[::-1])):
        yc = y_first + i * spacing
        fig.patches.append(Rectangle((fx(x_sq), fy(yc + size / 2)), size / W, size / H,
                                     transform=fig.transFigure, facecolor=col,
                                     edgecolor='none'))
        fig.text(fx(x_sq + size + 11), fy(yc), cat, ha='left', va='center',
                 fontsize=fs, family=EF, color='#262626')


def prism(rect_px, taxa, means, errs, sigs, ymax, ystep, xlim, offset, bar_w, cap_w,
          rot=0, label_fs=33):
    l, r, t, b = rect_px
    ax = fig.add_axes([fx(l), fy(b), (r - l) / W, (b - t) / H])
    xc = np.arange(len(taxa))
    for gi in range(3):
        xs = xc + (gi - 1) * offset
        m = np.array(means[gi])
        e = np.array(errs[gi])
        ax.bar(xs, m, bar_w, color=group_colors[gi], linewidth=0, zorder=2)
        ax.vlines(xs, m, m + e, color='black', lw=3.4, zorder=3)
        ax.hlines(m + e, xs - cap_w / 2, xs + cap_w / 2, color='black', lw=3.4, zorder=3)
        for xi, mi, ei, s in zip(xs, m, e, sigs[gi]):
            if s:
                off = 16 if '#' in s else 4
                fsz = 28 if '#' in s else 31
                ax.annotate(s, (xi, mi + ei), xytext=(0, off), textcoords='offset points',
                            ha='center', va='baseline', fontsize=fsz, fontweight='bold',
                            family=PF, annotation_clip=False)
    ax.set_xlim(*xlim)
    ax.set_ylim(0, ymax)
    ticks = np.arange(0, ymax + 0.1, ystep)
    ax.set_yticks(ticks)
    ax.set_yticklabels([f'{int(v)}' for v in ticks], fontsize=35, fontweight='bold', family=PF)
    ax.set_xticks(xc)
    if rot:
        ax.set_xticklabels(taxa, rotation=rot, ha='right', va='top', rotation_mode='anchor',
                           fontsize=label_fs, fontweight='bold', family=PF)
    else:
        ax.set_xticklabels(taxa, fontsize=label_fs, fontweight='bold', family=PF)
    ax.tick_params(axis='both', length=13, width=3.6, direction='out')
    ax.tick_params(axis='x', pad=10)
    ax.tick_params(axis='y', pad=6)
    for sp in ['top', 'right']:
        ax.spines[sp].set_visible(False)
    for sp in ['left', 'bottom']:
        ax.spines[sp].set_linewidth(4.2)
    return ax


def prism_legend(x_sq, ys):
    for y, col, lab in zip(ys, group_colors, groups):
        p = FancyBboxPatch((x_sq, H - y - 23), 79, 46,
                           boxstyle='round,pad=0,rounding_size=9',
                           transform=IdentityTransform(), facecolor=col, edgecolor='none')
        fig.patches.append(p)
        fig.text(fx(x_sq + 118), fy(y), lab, ha='left', va='center',
                 fontsize=40, family=PF, color='black')


def ylab(x, yc):
    fig.text(fx(x), fy(yc), 'percentage (%)', rotation=90, ha='center', va='center',
             fontsize=35, fontweight='bold', family=PF)


# ---------------------------------------------------------------- panel c / d
fig.text(fx(66), fy(81), 'c', fontsize=66, fontweight='bold', family=EF, va='baseline')
fig.text(fx(55), fy(184), 'Class', fontsize=54, fontweight='bold', family=EF, va='baseline')
add_box(32, 224, 2075, 1695)
stacked((143, 1698, 257, 1561), class_cats, class_colors, class_data, 0.64)
excel_legend(class_cats, class_colors, 1708, 329, 64.7)

fig.text(fx(2205), fy(305), 'd', fontsize=48, fontweight='bold', family=PF, va='baseline')
fig.text(fx(2209), fy(418), 'Class', fontsize=51, fontweight='bold', family=EF, va='baseline')
prism((2320, 3360, 647, 1324), d_taxa, d_mean, d_err, d_sig, 60, 20,
      (-0.506, 3.51), 0.27, 0.216, 0.12, rot=13, label_fs=33)
ylab(2202, 985)
prism_legend(3414, [693, 771, 848])

# ---------------------------------------------------------------- panel e / f
fig.text(fx(71), fy(1818), 'e', fontsize=66, fontweight='bold', family=EF, va='baseline')
fig.text(fx(55), fy(1913), 'Order', fontsize=54, fontweight='bold', family=EF, va='baseline')
add_box(31, 1946, 2075, 3414)
stacked((141, 1738, 1977, 3282), order_cats, order_colors, order_data, 0.85)
excel_legend(order_cats, order_colors, 1758, 1993, 48.7)

fig.text(fx(2219), fy(2158), 'f', fontsize=48, fontweight='bold', family=PF, va='baseline')
fig.text(fx(2199), fy(2264), 'Order', fontsize=51, fontweight='bold', family=EF, va='baseline')
prism((2320, 3360, 2385, 3042), f_taxa, f_mean, f_err, f_sig, 60, 20,
      (-0.508, 1.508), 0.271, 0.196, 0.092)
ylab(2202, 2713)
prism_legend(3421, [2431, 2510, 2587])

# ---------------------------------------------------------------- panel g / h
fig.text(fx(63), fy(3539), 'g', fontsize=66, fontweight='bold', family=EF, va='baseline')
fig.text(fx(55), fy(3633), 'Family', fontsize=54, fontweight='bold', family=EF, va='baseline')
add_box(25, 3672, 2075, 5154)
stacked((139, 1688, 3705, 5018), family_cats, family_colors, family_data, 0.65)
excel_legend(family_cats, family_colors, 1684, 3694, 38.7, size=21)

fig.text(fx(2180), fy(3823), 'h', fontsize=48, fontweight='bold', family=PF, va='baseline')
fig.text(fx(2176), fy(3930), 'Family', fontsize=51, fontweight='bold', family=EF, va='baseline')
prism((2323, 3354, 4046, 4726), h_taxa, h_mean, h_err, h_sig, 50, 10,
      (-1.503, 1.494), 1.0, 0.686, 0.32)
ylab(2200, 4385)
prism_legend(3421, [4094, 4170, 4249])

fig.savefig('out.png', dpi=DPI, facecolor='white')
